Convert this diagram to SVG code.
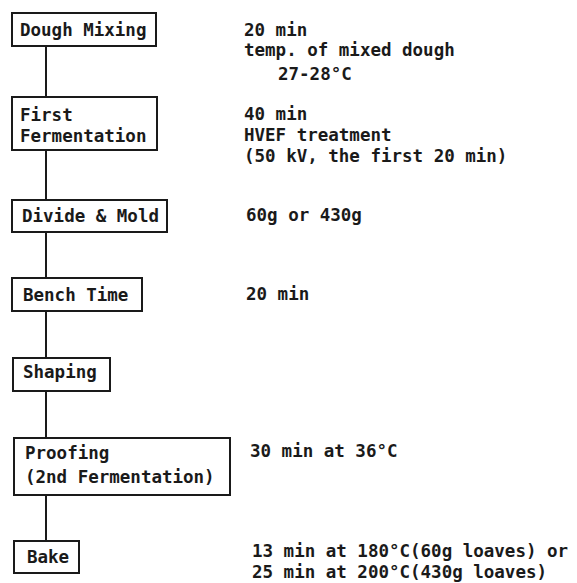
<svg xmlns="http://www.w3.org/2000/svg" width="577" height="583" viewBox="0 0 577 583">
<style>
.box{fill:#fff;stroke:#1a1a1a;stroke-width:2}
.t{font-family:"DejaVu Sans Mono","Liberation Mono",monospace;font-size:17.5px;font-weight:bold;fill:#1a1a1a}
.c{stroke:#1a1a1a;stroke-width:2;fill:none}
</style>
<rect width="577" height="583" fill="#fff"/>
<g id="connectors">
<line class="c" x1="46" y1="46" x2="46" y2="97"/>
<line class="c" x1="46" y1="150" x2="46" y2="200"/>
<line class="c" x1="46" y1="232" x2="46" y2="278"/>
<line class="c" x1="46" y1="311" x2="46" y2="358"/>
<line class="c" x1="46" y1="391" x2="46" y2="438"/>
<line class="c" x1="46" y1="495" x2="46" y2="541"/>
</g>
<g id="dough-mixing">
<rect class="box" x="12" y="13" width="144" height="33"/>
<text class="t" x="20" y="36">Dough Mixing</text>
</g>
<g id="first-fermentation">
<rect class="box" x="12" y="97" width="145" height="53"/>
<text class="t" x="20" y="121">First</text>
<text class="t" x="20" y="142">Fermentation</text>
</g>
<g id="divide-mold">
<rect class="box" x="12" y="200" width="155" height="32"/>
<text class="t" x="22" y="222">Divide &amp; Mold</text>
</g>
<g id="bench-time">
<rect class="box" x="12" y="278" width="130" height="33"/>
<text class="t" x="23" y="301">Bench Time</text>
</g>
<g id="shaping">
<rect class="box" x="13" y="358" width="97" height="33"/>
<text class="t" x="23" y="378">Shaping</text>
</g>
<g id="proofing">
<rect class="box" x="14" y="438" width="216" height="57"/>
<text class="t" x="25" y="459">Proofing</text>
<text class="t" x="25" y="483">(2nd Fermentation)</text>
</g>
<g id="bake">
<rect class="box" x="14" y="541" width="65" height="32"/>
<text class="t" x="27" y="563">Bake</text>
</g>
<g id="notes">
<text class="t" x="244" y="36">20 min</text>
<text class="t" x="244" y="56">temp. of mixed dough</text>
<text class="t" x="278" y="80">27-28°C</text>
<text class="t" x="244" y="120">40 min</text>
<text class="t" x="244" y="141">HVEF treatment</text>
<text class="t" x="244" y="162">(50 kV, the first 20 min)</text>
<text class="t" x="246" y="221">60g or 430g</text>
<text class="t" x="246" y="300">20 min</text>
<text class="t" x="250" y="457">30 min at 36°C</text>
<text class="t" x="252" y="557">13 min at 180°C(60g loaves) or</text>
<text class="t" x="252" y="578">25 min at 200°C(430g loaves)</text>
</g>
</svg>
